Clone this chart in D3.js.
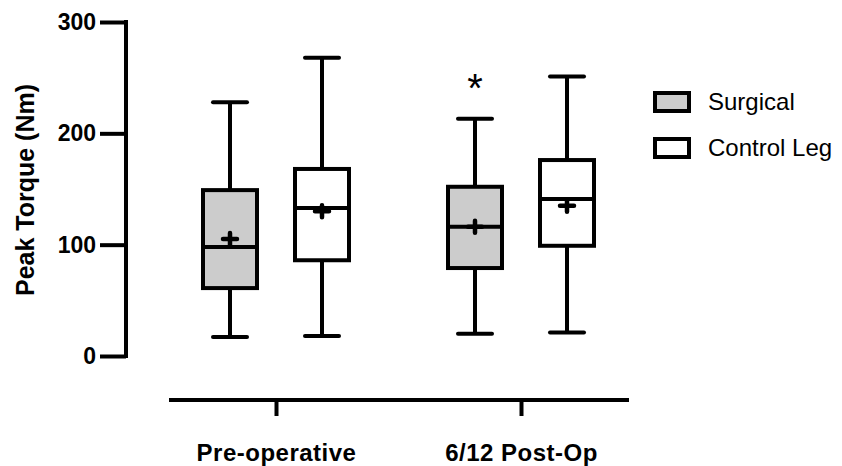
<!DOCTYPE html>
<html>
<head>
<meta charset="utf-8">
<script src="https://cdn.jsdelivr.net/npm/d3@7"></script>
<style>
  body { margin: 0; background: #fff; }
  text { font-family: "Liberation Sans", Arial, sans-serif; }
</style>
</head>
<body>
<div id="grafica"></div>
<script>
// datos
groups = ['Pre-operative', '6/12 Post-Op']
series = ['Surgical', 'Control Leg']
yTicks = [0, 100, 200, 300]

surgicalMin    = [17, 20]
surgicalQ1     = [61, 79]
surgicalMedian = [98, 116]
surgicalQ3     = [149, 152]
surgicalMax    = [228, 213]
surgicalMean   = [105, 116]

controlMin    = [18, 21]
controlQ1     = [86, 99]
controlMedian = [133, 141]
controlQ3     = [168, 176]
controlMax    = [268, 251]
controlMean   = [130, 135]

// marca de significancia sobre Surgical en 6/12 Post-Op
sigGroup = '6/12 Post-Op'
sigSeries = 'Surgical'
sigValue = 245

seriesFill = ['#cccccc', '#ffffff']

ancho_total = 842
alto_total  = 466

svg = d3
        .select('#grafica')
        .append('svg')
        .attr('width', ancho_total)
        .attr('height', alto_total)

y = d3.scaleLinear()
      .domain([0, 300])
      .range([356, 22])

x = d3.scalePoint()
      .domain(groups)
      .range([276, 521])

xSub = d3.scalePoint()
      .domain(series)
      .range([-46, 46])

color = d3.scaleOrdinal()
      .domain(series)
      .range(seriesFill)

// tabla para dibujar
rows = []
groups.forEach((g, i) => {
  rows.push({ group: g, serie: 'Surgical', min: surgicalMin[i], q1: surgicalQ1[i], med: surgicalMedian[i], q3: surgicalQ3[i], max: surgicalMax[i], mean: surgicalMean[i] })
  rows.push({ group: g, serie: 'Control Leg', min: controlMin[i], q1: controlQ1[i], med: controlMedian[i], q3: controlQ3[i], max: controlMax[i], mean: controlMean[i] })
})

// eje Y
yAxis = d3.axisLeft(y)
          .tickValues(yTicks)
          .tickSize(26)
          .tickSizeOuter(0)
          .tickPadding(4)

yGroup = svg.append('g')
            .attr('transform', 'translate(126, 0)')
            .call(yAxis)
yGroup.select('.domain')
      .attr('stroke', '#000')
      .attr('stroke-width', 4)
      .attr('d', `M0,${y(300) - 2}V${y(0) + 2}`)
yGroup.selectAll('.tick line')
      .attr('stroke', '#000')
      .attr('stroke-width', 4)
yGroup.selectAll('.tick text')
      .attr('font-size', '23px')
      .attr('font-weight', 'bold')
      .attr('fill', '#000')
      .attr('font-family', '"Liberation Sans", Arial, sans-serif')

svg.append('text')
   .attr('transform', 'translate(34, 190) rotate(-90)')
   .attr('text-anchor', 'middle')
   .attr('font-size', '25px')
   .attr('font-weight', 'bold')
   .text('Peak Torque (Nm)')

// eje X
xAxis = d3.axisBottom(x)
          .tickSize(16)
          .tickSizeOuter(0)
          .tickPadding(28)

xGroup = svg.append('g')
            .attr('transform', 'translate(0, 400)')
            .call(xAxis)
xGroup.select('.domain')
      .attr('stroke', '#000')
      .attr('stroke-width', 4)
      .attr('d', 'M169,0H629')
xGroup.selectAll('.tick line')
      .attr('stroke', '#000')
      .attr('stroke-width', 4)
xGroup.selectAll('.tick text')
      .attr('font-size', '24px')
      .attr('font-weight', 'bold')
      .attr('letter-spacing', '0.5px')
      .attr('fill', '#000')
      .attr('font-family', '"Liberation Sans", Arial, sans-serif')

// cajas
boxW = 54
capW = 34

cajas = svg.selectAll('g.caja')
           .data(rows)
           .enter()
           .append('g')
           .attr('class', 'caja')
           .attr('transform', (d) => `translate(${x(d.group) + xSub(d.serie)}, 0)`)

cajas.append('line')
     .attr('x1', 0).attr('x2', 0)
     .attr('y1', (d) => y(d.max)).attr('y2', (d) => y(d.q3))
     .attr('stroke', '#000').attr('stroke-width', 4)
cajas.append('line')
     .attr('x1', 0).attr('x2', 0)
     .attr('y1', (d) => y(d.q1)).attr('y2', (d) => y(d.min))
     .attr('stroke', '#000').attr('stroke-width', 4)
cajas.append('line')
     .attr('x1', -capW / 2).attr('x2', capW / 2)
     .attr('y1', (d) => y(d.max)).attr('y2', (d) => y(d.max))
     .attr('stroke', '#000').attr('stroke-width', 4).attr('stroke-linecap', 'round')
cajas.append('line')
     .attr('x1', -capW / 2).attr('x2', capW / 2)
     .attr('y1', (d) => y(d.min)).attr('y2', (d) => y(d.min))
     .attr('stroke', '#000').attr('stroke-width', 4).attr('stroke-linecap', 'round')

cajas.append('rect')
     .attr('x', -boxW / 2)
     .attr('width', boxW)
     .attr('y', (d) => y(d.q3))
     .attr('height', (d) => y(d.q1) - y(d.q3))
     .attr('fill', (d) => color(d.serie))
     .attr('stroke', '#000')
     .attr('stroke-width', 4)

cajas.append('line')
     .attr('x1', -boxW / 2).attr('x2', boxW / 2)
     .attr('y1', (d) => y(d.med)).attr('y2', (d) => y(d.med))
     .attr('stroke', '#000').attr('stroke-width', 4)

// media (+)
cajas.append('path')
     .attr('d', (d) => `M-7,${y(d.mean)}H7M0,${y(d.mean) - 6}V${y(d.mean) + 6}`)
     .attr('stroke', '#000')
     .attr('stroke-width', 4.5)
     .attr('stroke-linecap', 'round')

// asterisco
svg.append('text')
   .attr('x', x(sigGroup) + xSub(sigSeries))
   .attr('y', y(sigValue) + 19)
   .attr('text-anchor', 'middle')
   .attr('font-size', '40px')
   .text('*')

// leyenda
leyenda = svg.append('g')
             .attr('transform', 'translate(655, 93)')

series.forEach((s, i) => {
  ren = leyenda.append('g')
               .attr('transform', `translate(0, ${i * 46})`)
  ren.append('rect')
     .attr('x', 0)
     .attr('y', 0)
     .attr('width', 34)
     .attr('height', 18)
     .attr('fill', color(s))
     .attr('stroke', '#000')
     .attr('stroke-width', 4)
  ren.append('text')
     .attr('x', 53)
     .attr('y', 17)
     .attr('font-size', '24px')
     .attr('fill', '#000')
     .text(s)
})
</script>
</body>
</html>
